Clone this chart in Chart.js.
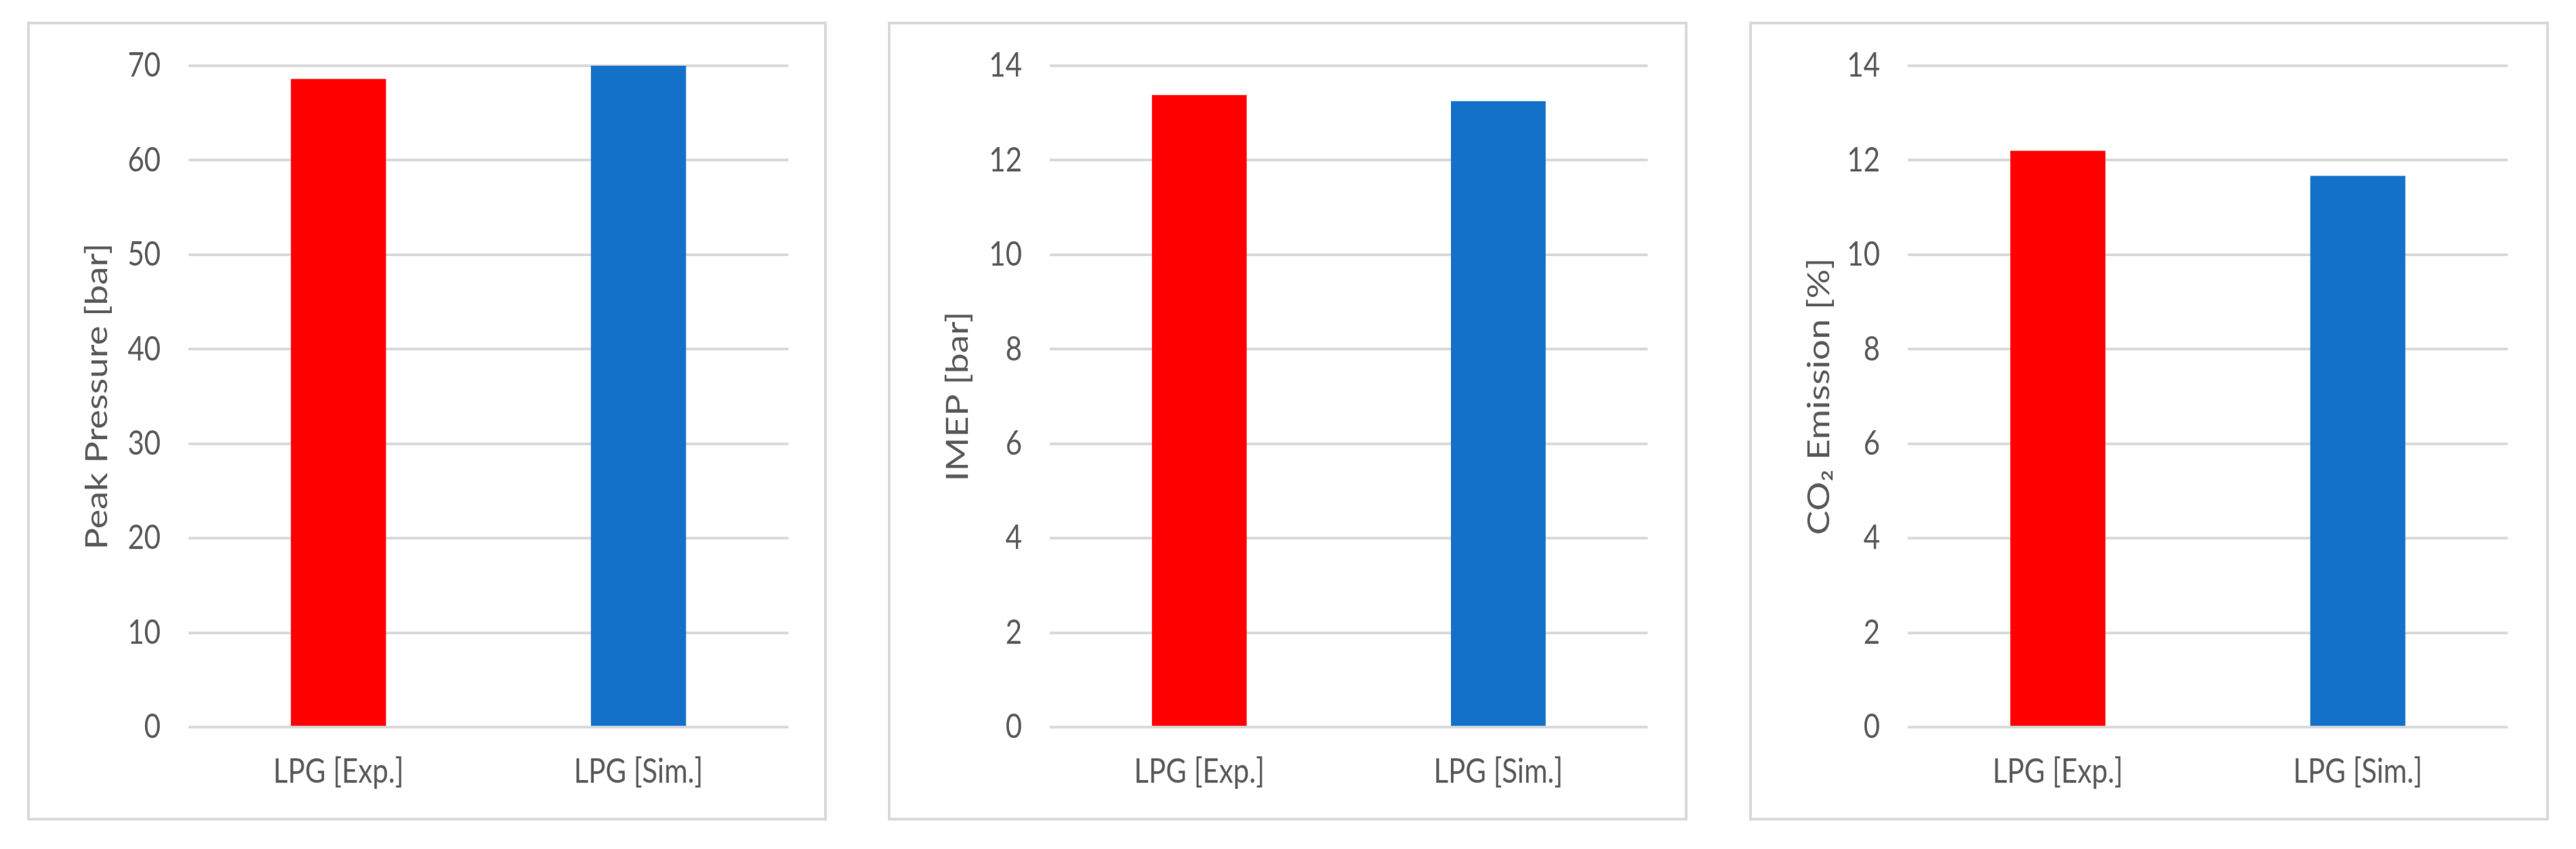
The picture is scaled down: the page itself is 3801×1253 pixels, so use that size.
<!DOCTYPE html>
<html>
<head>
<meta charset="utf-8">
<script src="https://cdn.jsdelivr.net/npm/chart.js@4.4.1/dist/chart.umd.min.js"></script>
<style>
    body { margin: 0; background: #ffffff; }
    #page { position: relative; width: 3801px; height: 1253px; overflow: hidden; background: #ffffff; }
    .panel { position: absolute; top: 32px; width: 1172px; height: 1171px; border: 4px solid #d9d9d9; background: #ffffff; overflow: hidden; }
    .stretch { position: absolute; left: 0; top: 0; width: 1172px; height: 976px; transform: scaleY(1.2); transform-origin: 0 0; }
</style>
</head>
<body>
<div id="page">
    <div class="panel" style="left: 40px;"><div class="stretch"><canvas id="ctx-pressure" width="1172" height="976"></canvas></div></div>
    <div class="panel" style="left: 1310px;"><div class="stretch"><canvas id="ctx-imep" width="1172" height="976"></canvas></div></div>
    <div class="panel" style="left: 2581px;"><div class="stretch"><canvas id="ctx-co2" width="1172" height="976"></canvas></div></div>
</div>
<script>
    // values
    const categories = ['LPG [Exp.]', 'LPG [Sim.]'];
    const peakPressure = [68.6, 70.0];
    const imep = [13.38, 13.25];
    const co2Emission = [12.2, 11.67];

    const barColors = ['#ff0000', '#1471c9'];
    const pressureTicks = { max: 70, step: 10 };
    const imepTicks = { max: 14, step: 2 };
    const co2Ticks = { max: 14, step: 2 };

    // the original figure is stretched vertically, so charts are drawn short and scaled up
    const k = 1.2;
    const canvasH = 976;
    const plotTop = (97 - 36) / k;
    const plotBottom = (1073 - 36) / k;
    const xAxisH = canvasH - plotBottom;

    Chart.defaults.font.family = 'Lato, "Open Sans", sans-serif';
    Chart.defaults.color = '#595959';

    const makeChart = (id, values, title, ticks, yWidth, padRight) => {
        const ctx = document.getElementById(id);
        return new Chart(ctx, {
            type: 'bar',
            data: {
                labels: categories,
                datasets: [{
                    data: values,
                    backgroundColor: barColors,
                    borderWidth: 0,
                    barPercentage: 0.317,
                    categoryPercentage: 1.0
                }]
            },
            options: {
                responsive: false,
                devicePixelRatio: k,
                animation: false,
                layout: { padding: { top: plotTop, right: padRight, bottom: 0, left: 0 } },
                plugins: {
                    legend: { display: false },
                    tooltip: { enabled: false }
                },
                scales: {
                    x: {
                        grid: { display: false, drawTicks: false },
                        border: { display: false },
                        ticks: { font: { size: 42 }, color: '#595959', padding: 30, maxRotation: 0 },
                        afterFit: (scale) => { scale.height = xAxisH; }
                    },
                    y: {
                        min: 0,
                        max: ticks.max,
                        grid: { color: '#d9d9d9', lineWidth: 4 / k, drawTicks: false },
                        border: { display: false },
                        ticks: { stepSize: ticks.step, font: { size: 42 }, color: '#595959', padding: 41 },
                        title: {
                            display: true,
                            text: title,
                            color: '#595959',
                            font: { size: 45 },
                            padding: { top: 73, bottom: 0 }
                        },
                        afterFit: (scale) => {
                            scale.width = yWidth;
                            scale.paddingTop = 0;
                            scale.paddingBottom = 0;
                        }
                    }
                }
            }
        });
    };

    makeChart('ctx-pressure', peakPressure, 'Peak Pressure [bar]', pressureTicks, 234, 53);
    makeChart('ctx-imep', imep, 'IMEP [bar]', imepTicks, 235, 55);
    makeChart('ctx-co2', co2Emission, 'CO\u2082 Emission [%]', co2Ticks, 230, 57);
</script>
</body>
</html>
